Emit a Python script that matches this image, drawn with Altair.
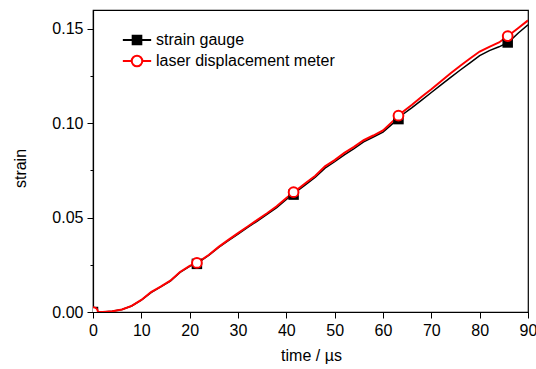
import altair as alt
import pandas as pd

# time axis (µs) for both traces
time_us = [0, 2, 4, 6, 8, 10, 12, 14, 16, 18, 20, 22, 24, 26, 28, 30, 32, 34, 36, 38,
           40, 42, 44, 46, 48, 50, 52, 54, 56, 58, 60, 62, 64, 66, 68, 70, 72, 74, 76,
           78, 80, 82, 84, 86, 88, 90]

strain_gauge = [0.0000, 0.0000, 0.0004, 0.0013, 0.0032, 0.0063, 0.0103, 0.0133, 0.0164,
                0.0210, 0.0242, 0.0266, 0.0301, 0.0342, 0.0378, 0.0413, 0.0448, 0.0482,
                0.0517, 0.0553, 0.0597, 0.0636, 0.0675, 0.0714, 0.0762, 0.0796, 0.0833,
                0.0866, 0.0901, 0.0927, 0.0953, 0.0998, 0.1045, 0.1083, 0.1123, 0.1163,
                0.1203, 0.1243, 0.1282, 0.1320, 0.1358, 0.1385, 0.1405, 0.1430, 0.1478,
                0.1522]

laser_meter = [0.0000, 0.0000, 0.0004, 0.0013, 0.0032, 0.0064, 0.0105, 0.0134, 0.0166,
               0.0212, 0.0244, 0.0268, 0.0303, 0.0345, 0.0382, 0.0418, 0.0453, 0.0488,
               0.0523, 0.0560, 0.0604, 0.0643, 0.0683, 0.0722, 0.0772, 0.0805, 0.0843,
               0.0875, 0.0910, 0.0935, 0.0962, 0.1010, 0.1058, 0.1098, 0.1140, 0.1180,
               0.1222, 0.1265, 0.1305, 0.1343, 0.1380, 0.1405, 0.1428, 0.1465, 0.1505,
               0.1545]

# marker positions along each trace
marker_time = [0, 21.5, 41.5, 63.2, 85.8]
marker_gauge = [0.0000, 0.0255, 0.0622, 0.1022, 0.1428]
marker_laser = [0.0000, 0.0260, 0.0635, 0.1040, 0.1462]

SG = "strain gauge"
LD = "laser displacement meter"
series_order = [SG, LD]

lines = pd.DataFrame({
    "t": time_us * 2,
    "strain": strain_gauge + laser_meter,
    "series": [SG] * len(time_us) + [LD] * len(time_us),
})
markers = pd.DataFrame({
    "t": marker_time * 2,
    "strain": marker_gauge + marker_laser,
    "series": [SG] * len(marker_time) + [LD] * len(marker_time),
})

FONT = "Liberation Sans, Arial, sans-serif"

major_x = "datum.value % 10 === 0"
major_y = "abs(datum.value*20 - round(datum.value*20)) < 1e-6"

x_enc = alt.X(
    "t:Q",
    scale=alt.Scale(domain=[0, 90], nice=False),
    axis=alt.Axis(
        title="time / µs",
        values=list(range(0, 91, 5)),
        labelExpr=f"{major_x} ? format(datum.value, 'd') : ''",
        tickSize={"condition": {"test": major_x, "value": 6}, "value": 3},
        labelPadding=4,
        labelFlush=False,
        labelOverlap=False,
        titleX=218,
        titleY=43,
        titleBaseline="middle",
    ),
)
y_enc = alt.Y(
    "strain:Q",
    scale=alt.Scale(domain=[0, 0.16], nice=False),
    axis=alt.Axis(
        title="strain",
        values=[0, 0.025, 0.05, 0.075, 0.1, 0.125, 0.15],
        labelExpr=f"{major_y} ? format(datum.value, '.2f') : ''",
        tickSize={"condition": {"test": major_y, "value": 6}, "value": 3},
        labelPadding=4,
        labelFlush=False,
        labelOverlap=False,
        titleX=-73,
        titleY=158,
        titleAngle=-90,
        titleBaseline="middle",
        titleAlign="center",
    ),
)

base_lines = alt.Chart(lines).encode(x=x_enc, y=y_enc)

gauge_line = base_lines.transform_filter(alt.datum.series == SG).mark_line(
    color="black", strokeWidth=1.5, clip=True)
laser_line = base_lines.transform_filter(alt.datum.series == LD).mark_line(
    color="#ff0000", strokeWidth=2, clip=True)

base_markers = alt.Chart(markers).encode(x="t:Q", y="strain:Q")
squares = base_markers.transform_filter(alt.datum.series == SG).mark_point(
    shape="square", filled=True, color="black", size=110, opacity=1, clip=True)
circles = base_markers.transform_filter(alt.datum.series == LD).mark_point(
    shape="circle", filled=True, fill="white", stroke="#ff0000", strokeWidth=2,
    size=95, opacity=1, clip=True)

# legend symbols: line segment with the marker in the middle
gauge_sym = "M-1.77,0H-0.54M0.54,0H1.77M-0.54,-0.54H0.54V0.54H-0.54Z"
laser_sym = ("M-1.77,0H-0.66M0.66,0H1.77M-0.66,0A0.66,0.66 0 1,1 0.66,0"
             "A0.66,0.66 0 1,1 -0.66,0Z")

legend_layer = base_markers.mark_point(opacity=0, filled=False, clip=True).encode(
    shape=alt.Shape("series:N", scale=alt.Scale(domain=series_order,
                                               range=[gauge_sym, laser_sym]),
                    legend=alt.Legend(title=None, orient="none", legendX=35, legendY=21,
                                      symbolSize=256, labelOffset=10, rowPadding=2,
                                      labelFontSize=16, labelFont=FONT, labelLimit=0,
                                      symbolStrokeWidth=2, symbolOpacity=1,
                                      padding=0)),
    fill=alt.Fill("series:N", scale=alt.Scale(domain=series_order,
                                             range=["black", "white"])),
    stroke=alt.Stroke("series:N", scale=alt.Scale(domain=series_order,
                                                 range=["black", "#ff0000"])),
)

chart = alt.layer(gauge_line, laser_line, squares, circles, legend_layer).properties(
    width=435,
    height=302,
    autosize=alt.AutoSizeParams(type="none"),
    padding={"left": 93, "top": 10, "right": 8, "bottom": 57},
).configure_view(
    stroke="black", strokeWidth=1.2
).configure_axis(
    grid=False,
    domainColor="black",
    domainWidth=1.2,
    tickColor="black",
    tickWidth=1,
    labelColor="black",
    labelFont=FONT,
    labelFontSize=16,
    titleColor="black",
    titleFont=FONT,
    titleFontSize=16,
    titleFontWeight="normal",
).configure_legend(
    labelColor="black",
)

chart.save("out.html", embed_options={"renderer": "svg", "actions": False})
